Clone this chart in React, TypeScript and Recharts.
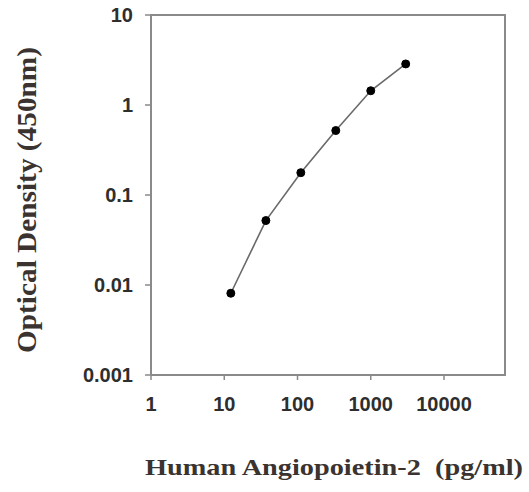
import React from 'react';
import { LineChart, Line, XAxis, YAxis } from 'recharts';

// standard curve: concentration (pg/ml) vs OD at 450nm
const concentrations = [12.3, 37, 111, 333, 1000, 3000];
const opticalDensity = [0.0081, 0.052, 0.177, 0.52, 1.44, 2.86];
const xTicks = [1, 10, 100, 1000, 10000];
const yTicks = [0.001, 0.01, 0.1, 1, 10];
const X_MAX = 68000;
const Y_MAX = 10;

const data = concentrations.map((c, i) => ({ conc: c, od: opticalDensity[i] }));

const W = 529;
const H = 492;
const M = { top: 15, right: 24, bottom: 0, left: 0 };
const Y_AXIS_W = 151;
const X_AXIS_H = 117;

const AXIS = '#8a8a8a';
const LABEL = '#3a3330';
const tickStyle = { fill: '#2e2e2e', fontSize: 20, fontFamily: 'Liberation Sans, Arial, sans-serif', fontWeight: 'bold' as const };

const YLabel = () => (
  <text
    x={36}
    y={200}
    transform="rotate(-90, 36, 200)"
    textAnchor="middle"
    fill={LABEL}
    fontFamily="Liberation Serif, Times New Roman, serif"
    fontWeight="bold"
    fontSize={27}
    textLength={306}
    lengthAdjust="spacingAndGlyphs"
  >
    Optical Density (450nm)
  </text>
);

const XLabel = () => (
  <text
    x={334}
    y={475}
    textAnchor="middle"
    fill={LABEL}
    fontFamily="Liberation Serif, Times New Roman, serif"
    fontWeight="bold"
    fontSize={23}
    textLength={378}
    lengthAdjust="spacingAndGlyphs"
    style={{ whiteSpace: 'pre' }}
  >
    {'Human Angiopoietin-2  (pg/ml)'}
  </text>
);

// top and right edges of the box, as bordered div over the plot area
const Frame = () => {
  const top = M.top;
  const right = W - M.right;
  const bottom = H - M.bottom - X_AXIS_H;
  const left = M.left + Y_AXIS_W;
  return (
    <div
      style={{
        position: 'absolute',
        left: left - 1,
        top: top - 1,
        width: right - left,
        height: bottom - top,
        borderTop: `2px solid ${AXIS}`,
        borderRight: `2px solid ${AXIS}`,
        pointerEvents: 'none',
      }}
    />
  );
};

export default function App() {
  return (
    <div style={{ position: 'absolute', left: 0, top: 0, width: W, height: H, background: '#fff' }}>
      <LineChart width={W} height={H} data={data} margin={M}>
        <XAxis
          dataKey="conc"
          type="number"
          scale="log"
          domain={[1, X_MAX]}
          ticks={xTicks}
          allowDataOverflow
          height={X_AXIS_H}
          tick={tickStyle}
          tickSize={5}
          tickMargin={17}
          axisLine={{ stroke: AXIS, strokeWidth: 2 }}
          tickLine={{ stroke: AXIS, strokeWidth: 1.5 }}
          label={{ content: () => <XLabel /> }}
        />
        <YAxis
          type="number"
          scale="log"
          domain={[0.001, Y_MAX]}
          ticks={yTicks}
          allowDataOverflow
          width={Y_AXIS_W}
          tick={tickStyle}
          tickSize={6}
          tickMargin={12}
          tickFormatter={(v: number) => String(v)}
          axisLine={{ stroke: AXIS, strokeWidth: 2 }}
          tickLine={{ stroke: AXIS, strokeWidth: 1.5 }}
          label={{ content: () => <YLabel /> }}
        />
        <Line
          dataKey="od"
          stroke="#6a6a6a"
          strokeWidth={1.6}
          dot={{ r: 4, fill: '#000', stroke: '#000', strokeWidth: 1 }}
          isAnimationActive={false}
        />
      </LineChart>
      <Frame />
    </div>
  );
}
